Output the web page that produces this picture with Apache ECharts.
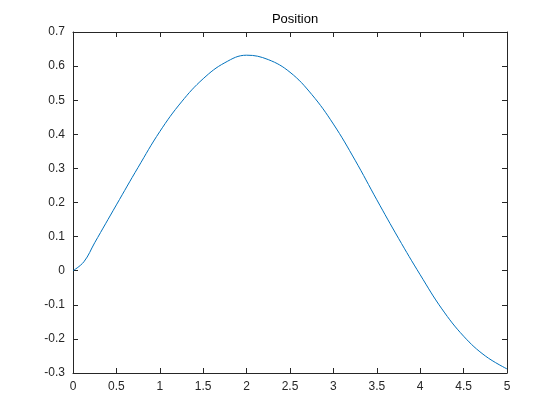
<!DOCTYPE html>
<html>
<head>
<meta charset="utf-8">
<script src="https://cdn.jsdelivr.net/npm/echarts@6/dist/echarts.min.js"></script>
<style>
html,body{margin:0;padding:0;background:#fff;}
#main{width:560px;height:420px;}
</style>
</head>
<body>
<div id="main"></div>
<script>
// values
var xs = [0, 0.125, 0.25, 0.5, 0.75, 1.0, 1.25, 1.5, 1.75, 2.0, 2.25, 2.5, 2.75, 3.0, 3.25, 3.5, 3.75, 4.0, 4.25, 4.5, 4.75, 5.0];
var pos = [0, 0.026, 0.082, 0.193, 0.303, 0.408, 0.495, 0.563, 0.610, 0.632, 0.619, 0.582, 0.517, 0.430, 0.324, 0.208, 0.095, -0.012, -0.112, -0.192, -0.250, -0.288];

var data = xs.map(function(x, i){ return [x, pos[i]]; });

var chart = echarts.init(document.getElementById('main'));
var axisCol = '#262626';
function ax(extra){
    var base = {
        type: 'value',
        axisLine: {show: true, onZero: false, lineStyle: {color: axisCol, width: 1}},
        axisTick: {show: true, inside: true, length: 5, lineStyle: {color: axisCol}},
        splitLine: {show: false},
        axisLabel: {color: axisCol, fontFamily: 'Arial, Liberation Sans', fontSize: 12}
    };
    for (var k in extra) base[k] = extra[k];
    return base;
}
var option = {
    animation: false,
    title: {
        text: 'Position',
        left: 290, top: 8, textAlign: 'center',
        textStyle: {fontFamily: 'Arial, Liberation Sans', fontSize: 13, fontWeight: 'normal', color: '#000'}
    },
    grid: {left: 73, right: 53, top: 32, bottom: 47},
    xAxis: [
        ax({min: 0, max: 5, interval: 0.5, position: 'bottom', axisLabel: {color: axisCol, fontFamily: 'Arial, Liberation Sans', fontSize: 12, margin: 8}}),
        ax({min: 0, max: 5, interval: 0.5, position: 'top', axisLabel: {show: false}})
    ],
    yAxis: [
        ax({min: -0.3, max: 0.7, interval: 0.1, position: 'left', axisLabel: {color: axisCol, fontFamily: 'Arial, Liberation Sans', fontSize: 12, margin: 8,
            formatter: function(v){ return String(Math.round(v*10)/10); }}}),
        ax({min: -0.3, max: 0.7, interval: 0.1, position: 'right', axisLabel: {show: false}})
    ],
    series: [{
        type: 'line',
        data: data,
        smooth: 0.4,
        showSymbol: false,
        lineStyle: {color: '#0072BD', width: 1}
    }]
};
chart.setOption(option);
</script>
</body>
</html>
